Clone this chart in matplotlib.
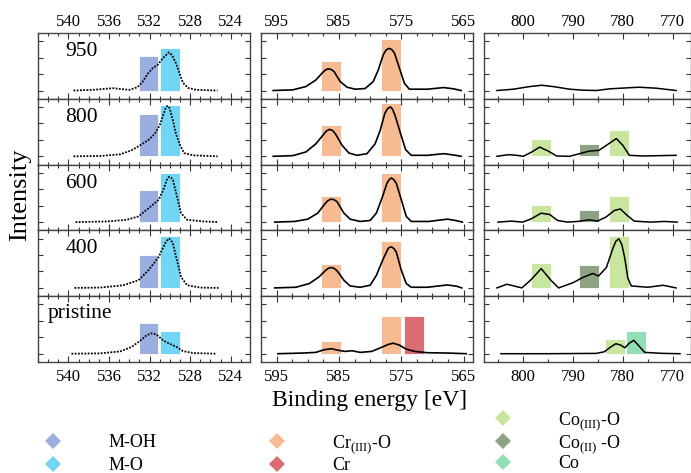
import matplotlib
matplotlib.use('Agg')
import matplotlib.pyplot as plt
from matplotlib.lines import Line2D

plt.rcParams['font.family'] = 'Liberation Serif'
plt.rcParams['mathtext.fontset'] = 'custom'
plt.rcParams['mathtext.rm'] = 'Liberation Serif'

samples = ['950', '800', '600', '400', 'pristine']

# O 1s region
o1s_energy = [
    [539.5, 537.6, 535.6, 534.0, 533.2, 532.7, 532.2, 531.7, 531.2, 530.7, 530.3, 530.1, 529.8, 529.4, 529.0, 528.7, 528.2, 527.4, 525.3],
    [539.5, 536.9, 534.9, 533.8, 532.9, 532.1, 531.5, 531.0, 530.6, 530.45, 530.3, 530.15, 530.0, 529.7, 529.4, 529.0, 528.6, 527.7, 525.3],
    [539.3, 536.2, 534.25, 533.1, 532.1, 531.1, 530.65, 530.3, 530.18, 530.06, 529.88, 529.7, 529.3, 528.9, 528.3, 526.7, 525.2],
    [539.4, 536.9, 534.6, 533.1, 532.1, 531.1, 530.65, 530.4, 530.1, 529.9, 529.7, 529.3, 528.9, 528.3, 527.0, 525.2],
    [539.7, 536.9, 534.9, 533.8, 532.9, 532.3, 531.8, 531.3, 530.65, 530.0, 529.3, 528.7, 527.7, 525.4],
]
o1s_counts = [
    [0, 0.01, 0.035, 0.01, 0.05, 0.13, 0.25, 0.34, 0.39, 0.49, 0.55, 0.58, 0.54, 0.415, 0.24, 0.115, 0.04, 0.01, 0],
    [0, 0.005, 0.03, 0.09, 0.17, 0.25, 0.34, 0.47, 0.65, 0.72, 0.76, 0.765, 0.72, 0.545, 0.34, 0.17, 0.05, 0.015, 0],
    [0, 0.01, 0.035, 0.086, 0.21, 0.34, 0.49, 0.64, 0.675, 0.69, 0.675, 0.64, 0.39, 0.136, 0.035, 0.01, 0],
    [0, 0.005, 0.04, 0.116, 0.27, 0.47, 0.62, 0.70, 0.75, 0.73, 0.67, 0.42, 0.167, 0.04, 0.005, 0],
    [0, 0.005, 0.035, 0.10, 0.20, 0.28, 0.31, 0.29, 0.20, 0.15, 0.10, 0.04, 0.01, 0],
]
moh_center = 532.1
mo_center = 530.0
moh_heights = [0.526, 0.642, 0.49, 0.506, 0.474]
mo_heights = [0.642, 0.779, 0.742, 0.794, 0.342]

# Cr 2p region
cr_energy = [
    [595.55, 592.4, 590.3, 588.7, 587.65, 587.2, 586.75, 586.25, 585.8, 584.8, 583.7, 582.4, 580.8, 579.5, 578.7, 577.9, 577.45, 577.0, 576.55, 576.1, 575.3, 574.5, 573.7, 570.8, 568.2, 566.6, 565.4],
    [595.55, 592.4, 590.3, 588.7, 587.4, 587.0, 586.5, 586.0, 585.55, 584.5, 583.4, 582.1, 580.5, 579.2, 578.4, 577.65, 577.2, 576.75, 576.4, 576.0, 575.1, 574.3, 573.4, 570.8, 568.2, 566.6, 565.4],
    [595.3, 592.1, 590.0, 588.4, 587.4, 586.85, 586.3, 585.8, 585.3, 584.2, 583.2, 581.6, 580.0, 579.0, 578.0, 577.3, 576.95, 576.6, 576.2, 575.8, 575.0, 574.2, 573.4, 570.55, 567.6, 566.3, 565.2],
    [595.3, 591.9, 589.75, 588.2, 587.1, 586.65, 586.2, 585.75, 585.3, 584.2, 583.2, 581.6, 580.0, 579.0, 577.9, 577.1, 576.8, 576.5, 576.15, 575.8, 575.0, 574.2, 573.4, 570.8, 567.6, 566.1, 565.3],
    [594.8, 590.8, 588.7, 587.4, 586.2, 585.0, 584.0, 582.9, 581.6, 579.75, 578.2, 577.1, 576.3, 575.3, 574.2, 572.9, 570.8, 567.6, 564.6],
]
cr_counts = [
    [0, 0.01, 0.06, 0.16, 0.27, 0.31, 0.33, 0.32, 0.29, 0.136, 0.05, 0.02, 0.03, 0.136, 0.31, 0.54, 0.615, 0.64, 0.625, 0.57, 0.34, 0.11, 0.02, 0.02, 0.045, 0.025, 0],
    [0, 0.01, 0.066, 0.19, 0.34, 0.385, 0.41, 0.39, 0.34, 0.167, 0.05, 0.015, 0.04, 0.19, 0.39, 0.65, 0.725, 0.75, 0.715, 0.62, 0.34, 0.10, 0.015, 0.015, 0.04, 0.02, 0],
    [0, 0.01, 0.045, 0.136, 0.26, 0.32, 0.35, 0.34, 0.31, 0.136, 0.045, 0.01, 0.025, 0.136, 0.39, 0.59, 0.645, 0.67, 0.645, 0.59, 0.34, 0.086, 0.01, 0.01, 0.045, 0.025, 0],
    [0, 0.01, 0.066, 0.167, 0.27, 0.30, 0.31, 0.295, 0.26, 0.116, 0.03, 0.01, 0.04, 0.19, 0.44, 0.6, 0.62, 0.62, 0.595, 0.545, 0.27, 0.066, 0.01, 0.01, 0.045, 0.025, 0],
    [0, 0.01, 0.02, 0.06, 0.076, 0.05, 0.035, 0.045, 0.02, 0.035, 0.096, 0.14, 0.16, 0.13, 0.07, 0.035, 0.015, 0.01, 0],
]
cr_iii_centers = [586.2, 576.6]
cr_iii_heights = [[0.455, 0.783], [0.47, 0.808], [0.403, 0.752], [0.359, 0.707], [0.197, 0.571]]
cr_metal_centers = [[], [], [], [], [573.0]]
cr_metal_heights = [[], [], [], [], [0.571]]

# Co 2p region
co_energy = [
    [805.3, 802.0, 798.7, 796.3, 794.0, 790.7, 788.0, 785.3, 782.7, 779.3, 776.7, 773.3, 769.3],
    [805.3, 803.0, 801.3, 800.0, 798.3, 796.7, 795.0, 793.3, 790.7, 788.7, 786.7, 784.8, 783.3, 781.3, 780.0, 778.7, 776.0, 769.3],
    [805.1, 802.4, 800.1, 798.4, 796.4, 794.7, 793.1, 791.1, 789.1, 786.7, 785.1, 783.4, 781.7, 780.5, 779.1, 777.7, 774.4, 771.7, 769.1],
    [805.3, 803.3, 800.3, 798.5, 796.4, 794.5, 792.9, 790.0, 788.0, 786.0, 784.9, 783.3, 782.0, 781.4, 780.8, 780.2, 779.6, 779.0, 778.3, 775.0, 771.9, 769.3],
    [804.5, 795.0, 785.3, 783.7, 782.5, 781.4, 780.4, 779.6, 778.7, 777.8, 776.9, 775.6, 772.0, 768.5],
]
co_counts = [
    [0, 0.02, 0.06, 0.08, 0.06, 0.02, 0.005, 0, 0.025, 0.04, 0.05, 0.035, 0],
    [0, 0.025, 0.015, 0, 0.066, 0.14, 0.08, 0.005, 0, 0.04, 0.08, 0.09, 0.167, 0.27, 0.167, 0.015, 0.005, 0.015],
    [0, 0.015, 0, 0.05, 0.136, 0.116, 0.025, 0, 0.01, 0.035, 0.015, 0.076, 0.177, 0.2, 0.1, 0.015, 0, 0.01, 0],
    [0, 0.056, 0, 0.12, 0.293, 0.12, 0, 0.08, 0.16, 0.22, 0.18, 0.31, 0.6, 0.71, 0.747, 0.66, 0.45, 0.15, 0.03, 0.01, 0.04, 0],
    [0, 0, 0.005, 0.03, 0.10, 0.152, 0.13, 0.09, 0.16, 0.203, 0.13, 0.02, 0.005, 0],
]
co_iii_centers = [[], [796.5, 780.8], [796.5, 780.8], [796.5, 780.8], [781.55]]
co_iii_heights = [[], [0.268, 0.394], [0.264, 0.394], [0.379, 0.783], [0.218]]
co_ii_centers = [[], [786.8], [786.8], [786.8], []]
co_ii_heights = [[], [0.182], [0.188], [0.343], []]
co_metal_centers = [[], [], [], [], [777.3]]
co_metal_heights = [[], [], [], [], [0.348]]

c_moh = '#9aaee0'
c_mo = '#72d5f5'
c_criii = '#f6bb93'
c_cr = '#da6d74'
c_coiii = '#c8e6a0'
c_coii = '#8ea383'
c_co = '#92dfb5'

W, H = 691, 473
fig = plt.figure(figsize=(W / 100, H / 100), dpi=100)

col_left = [38, 261, 484]
col_width = [212, 212, 207]
top = 33
row_h = 65.8
xlims = [(543.0, 522.1), (597.0, 563.5), (807.9, 766.3)]
majors = [[540, 536, 532, 528, 524], [595, 585, 575, 565], [800, 790, 780, 770]]
minors = [list(range(543, 522, -1)), [597.5 - 2.5 * k for k in range(14)], [805, 795, 785, 775]]


def style_axis(ax, c, r):
    ax.set_xlim(*xlims[c])
    ax.set_ylim(-0.126, 0.874)
    ax.set_xticks(majors[c])
    ax.set_xticks(minors[c], minor=True)
    ax.set_yticks([0, 0.25, 0.5, 0.75])
    ax.tick_params(axis='both', which='both', direction='in', top=True, right=True,
                   labelleft=False, labelbottom=(r == 4), labeltop=(r == 0),
                   labelsize=12, color='#333333', width=0.8)
    ax.tick_params(axis='x', which='major', length=4.5, pad=(2.5 if r == 0 else 5))
    ax.tick_params(axis='x', which='minor', length=2.5)
    ax.tick_params(axis='y', which='major', length=3.5)
    for s in ax.spines.values():
        s.set_color('#444444')
        s.set_linewidth(1.0)


for c in range(3):
    for r in range(5):
        ax = fig.add_axes([col_left[c] / W, (H - top - (r + 1) * row_h) / H,
                           col_width[c] / W, row_h / H])
        style_axis(ax, c, r)
        if c == 0:
            ax.bar(moh_center, moh_heights[r], width=1.95, color=c_moh, edgecolor='white', lw=0.6, zorder=1)
            ax.bar(mo_center, mo_heights[r], width=1.95, color=c_mo, edgecolor='white', lw=0.6, zorder=1)
            ax.plot(o1s_energy[r], o1s_counts[r], color='black', lw=1.3, ls=(0, (1, 0.8)), zorder=3)
            if samples[r] == 'pristine':
                ax.text(0.047, 0.73, samples[r], transform=ax.transAxes, fontsize=15.5, va='center')
            else:
                ax.text(0.13, 0.72, samples[r], transform=ax.transAxes, fontsize=15.5, va='center')
        elif c == 1:
            ax.bar(cr_iii_centers, cr_iii_heights[r], width=3.2, color=c_criii, edgecolor='white', lw=0.6, zorder=1)
            if cr_metal_centers[r]:
                ax.bar(cr_metal_centers[r], cr_metal_heights[r], width=3.2, color=c_cr, edgecolor='white', lw=0.6, zorder=1)
            ax.plot(cr_energy[r], cr_counts[r], color='black', lw=1.2, zorder=3, solid_joinstyle='round')
        else:
            if co_iii_centers[r]:
                ax.bar(co_iii_centers[r], co_iii_heights[r], width=4.0, color=c_coiii, edgecolor='white', lw=0.6, zorder=1)
            if co_ii_centers[r]:
                ax.bar(co_ii_centers[r], co_ii_heights[r], width=4.0, color=c_coii, edgecolor='white', lw=0.6, zorder=1)
            if co_metal_centers[r]:
                ax.bar(co_metal_centers[r], co_metal_heights[r], width=4.0, color=c_co, edgecolor='white', lw=0.6, zorder=1)
            ax.plot(co_energy[r], co_counts[r], color='black', lw=1.1, zorder=3, solid_joinstyle='round')

fig.text(370 / W, 1 - 400 / H, 'Binding energy [eV]', ha='center', va='center', fontsize=17)
fig.text(20 / W, 1 - 195 / H, 'Intensity', ha='center', va='center', rotation=90, fontsize=19)


def diamond(color):
    return Line2D([], [], ls='none', marker='D', markersize=8.5, markerfacecolor=color, markeredgewidth=0)


leg_kw = dict(frameon=False, fontsize=13, handlelength=1.0, handletextpad=2.55,
              borderpad=0, borderaxespad=0, loc='upper left')
fig.legend([diamond(c_moh), diamond(c_mo)], ['M-OH', 'M-O'],
           bbox_to_anchor=(44 / W, 1 - 434 / H), labelspacing=0.35, **leg_kw)
fig.legend([diamond(c_criii), diamond(c_cr)], [r'Cr$_{\mathrm{(III)}}$-O', 'Cr'],
           bbox_to_anchor=(268 / W, 1 - 433 / H), labelspacing=0.13, **leg_kw)
fig.legend([diamond(c_coiii), diamond(c_coii), diamond(c_co)],
           [r'Co$_{\mathrm{(III)}}$-O', r'Co$_{\mathrm{(II)}}$ -O', 'Co'],
           bbox_to_anchor=(494 / W, 1 - 410 / H), labelspacing=0.04, **leg_kw)

fig.savefig('out.png', dpi=100)
